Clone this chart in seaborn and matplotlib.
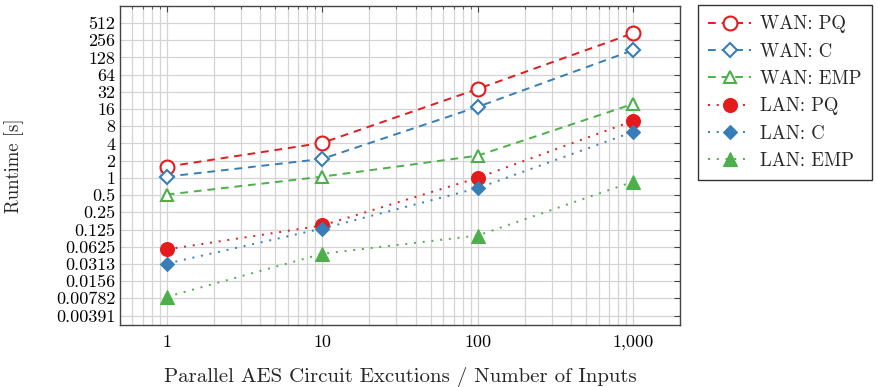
import numpy as np
import pandas as pd
import seaborn as sns
import matplotlib.pyplot as plt
from matplotlib.ticker import FixedLocator, FixedFormatter, LogLocator, NullFormatter

# data
inputs = [1, 10, 100, 1000]
wan_pq = [1.57, 4.1, 36, 340]
wan_c = [1.05, 2.15, 17.5, 172]
wan_emp = [0.51, 1.05, 2.45, 19.7]
lan_pq = [0.056, 0.147, 1.0, 10.0]
lan_c = [0.0317, 0.13, 0.66, 6.4]
lan_emp = [0.0083, 0.047, 0.098, 0.86]

series_names = ['WAN: PQ', 'WAN: C', 'WAN: EMP', 'LAN: PQ', 'LAN: C', 'LAN: EMP']
series_values = [wan_pq, wan_c, wan_emp, lan_pq, lan_c, lan_emp]

y_ticks = [2.0 ** k for k in range(-8, 10)]
y_labels = ['0.00391', '0.00782', '0.0156', '0.0313', '0.0625', '0.125', '0.25', '0.5',
            '1', '2', '4', '8', '16', '32', '64', '128', '256', '512']

sns.set_theme(style='white')
plt.rcParams['font.family'] = ['cmr10', 'DejaVu Serif']
plt.rcParams['axes.formatter.use_mathtext'] = True

red, blue, green = '#e41a1c', '#377eb8', '#4daf4a'
styles = {
    'WAN: PQ': dict(color=red, marker='o', ls=(0, (4, 3)), fill=False, ms=10),
    'WAN: C': dict(color=blue, marker='D', ls=(0, (4, 3)), fill=False, ms=7),
    'WAN: EMP': dict(color=green, marker='^', ls=(0, (4, 3)), fill=False, ms=9),
    'LAN: PQ': dict(color=red, marker='o', ls=(0, (1, 3.5)), fill=True, ms=10),
    'LAN: C': dict(color=blue, marker='D', ls=(0, (1, 3.5)), fill=True, ms=7),
    'LAN: EMP': dict(color=green, marker='^', ls=(0, (1, 3.5)), fill=True, ms=9.5),
}

fig = plt.figure(figsize=(8.79, 3.87), dpi=100)
ax = fig.add_axes([120 / 879, 1 - 325 / 387, 560 / 879, 319 / 387])

for name, vals in zip(series_names, series_values):
    st = styles[name]
    df = pd.DataFrame({'x': inputs, 'y': vals})
    sns.lineplot(data=df, x='x', y='y', ax=ax, color=st['color'], marker=st['marker'],
                 markersize=st['ms'], linewidth=1.4, linestyle=st['ls'],
                 markerfacecolor=st['color'] if st['fill'] else 'white',
                 markeredgecolor=st['color'], markeredgewidth=1.5 if not st['fill'] else 0.8,
                 label=name)

ax.set_xscale('log')
ax.set_yscale('log', base=2)
ax.set_xlim(0.5, 2000)
ax.set_ylim(2 ** -8.55, 2 ** 9.99)

ax.xaxis.set_major_locator(FixedLocator(inputs))
ax.xaxis.set_major_formatter(FixedFormatter(['1', '10', '100', '1,000']))
ax.xaxis.set_minor_locator(LogLocator(base=10, subs=np.arange(2, 10)))
ax.xaxis.set_minor_formatter(NullFormatter())
ax.yaxis.set_major_locator(FixedLocator(y_ticks))
ax.yaxis.set_major_formatter(FixedFormatter(y_labels))
ax.yaxis.set_minor_locator(FixedLocator([]))

ax.grid(True, which='both', axis='x', color='#d4d4d4', linewidth=0.9)
ax.grid(True, which='major', axis='y', color='#d4d4d4', linewidth=0.9)
ax.set_axisbelow(True)

ax.tick_params(which='both', direction='in', top=True, right=True, colors='#444444',
               labelcolor='black', labelsize=13)
ax.tick_params(which='major', length=4, width=0.8)
ax.tick_params(axis='x', which='major', pad=7)
ax.tick_params(which='minor', length=2.5, width=0.6)
for sp in ax.spines.values():
    sp.set_color('#444444')
    sp.set_linewidth(1.0)

ax.set_xlabel('Parallel AES Circuit Excutions / Number of Inputs', fontsize=15)
ax.set_ylabel('Runtime [s]', fontsize=13.5)
ax.xaxis.set_label_coords(0.5, (325 - 367) / 319)
ax.yaxis.set_label_coords((24 - 120) / 560, 0.5)

leg = ax.legend(loc='upper left', bbox_to_anchor=(698 / 879, 1 - 5 / 387),
                bbox_transform=fig.transFigure, frameon=True, fancybox=False,
                edgecolor='black', fontsize=13.5, handlelength=2.3, borderpad=0.55,
                labelspacing=0.5, handletextpad=0.45, borderaxespad=0)
leg.get_frame().set_linewidth(1.0)

fig.savefig('out.png', dpi=100)
